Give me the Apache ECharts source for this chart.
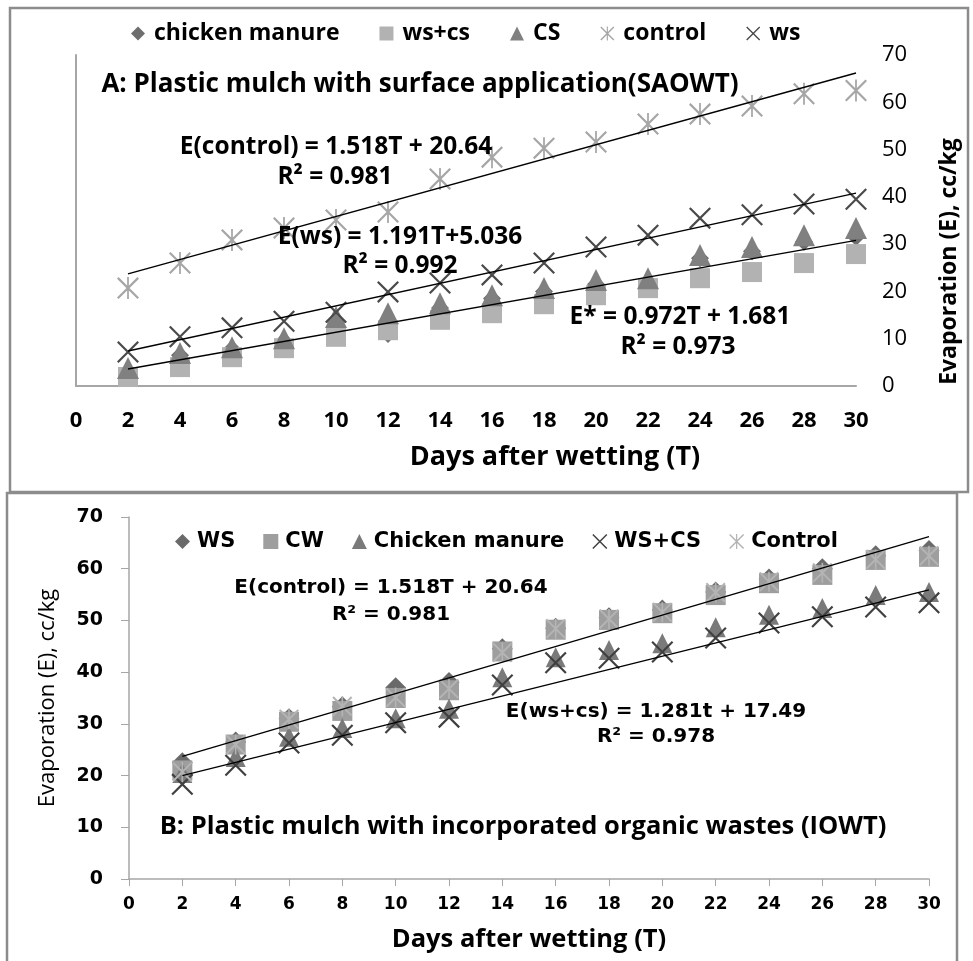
<!DOCTYPE html>
<html>
<head>
<meta charset="utf-8">
<script src="https://cdn.jsdelivr.net/npm/echarts@6/dist/echarts.min.js"></script>
<style>html,body{margin:0;padding:0;background:#fff}#c{width:973px;height:961px}</style>
</head>
<body>
<div id="c"></div>
<script>
// ---- data ----
const days = [2,4,6,8,10,12,14,16,18,20,22,24,26,28,30];
const xTicks = [0,2,4,6,8,10,12,14,16,18,20,22,24,26,28,30];
const yTicks = [0,10,20,30,40,50,60,70];

// Panel A: Plastic mulch with surface application (SAOWT)
const aNames = ['chicken manure','ws+cs','CS','control','ws'];
const aChickenManure = [3.0,6.5,7.8,9.5,13.5,11.0,16.5,18.5,20.0,21.5,22.0,27.0,28.5,30.5,31.5];
const aWsCs          = [1.9,4.0,6.1,8.0,10.4,11.8,14.0,15.4,17.3,19.2,20.7,22.8,24.1,26.0,27.9];
const aCS            = [3.8,7.0,8.2,10.1,14.6,15.4,17.5,19.2,20.7,22.4,22.8,27.7,29.4,31.9,33.4];
const aControl       = [20.7,26.0,30.9,33.4,35.1,36.8,43.8,48.4,50.3,51.6,55.4,57.5,59.2,61.8,62.5];
const aWs            = [7.2,10.4,12.3,13.7,15.6,19.9,21.8,23.5,26.0,29.4,31.9,35.5,36.2,38.5,39.5];
// trend lines in panel A (endpoints read at T=2 and T=30)
const aTrendControl = [[2,23.7],[30,66.2]];
const aTrendWs      = [[2,7.4],[30,40.8]];
const aTrendStar    = [[2,3.6],[30,30.8]];
const aEquations = ['E(control) = 1.518T + 20.64','R\u00b2 = 0.981','E(ws) = 1.191T+5.036','R\u00b2 = 0.992','E* = 0.972T + 1.681','R\u00b2 = 0.973'];
const aTitle = 'A: Plastic mulch with surface application(SAOWT)';

// Panel B: Plastic mulch with incorporated organic wastes (IOWT)
const bNames = ['WS','CW','Chicken manure','WS+CS','Control'];
const bWS            = [22.5,26.5,31.0,33.3,37.0,38.0,44.5,48.5,50.5,52.0,55.5,58.0,60.0,62.5,63.5];
const bCW            = [21.0,26.0,30.4,32.5,35.0,36.5,44.0,48.2,50.1,51.4,54.9,57.2,58.8,61.7,62.3];
const bChickenManure = [20.5,23.6,27.5,29.2,31.1,32.9,39.0,42.9,44.3,45.6,48.7,51.1,52.4,54.9,55.5];
const bWsCs          = [18.3,22.0,26.3,27.8,30.2,31.3,37.5,41.8,42.7,43.9,46.6,49.5,50.7,52.6,53.4];
const bControl       = [20.7,26.0,30.9,33.4,35.1,36.8,43.8,48.4,50.3,51.6,55.4,57.5,59.2,61.8,62.5];
const bTrendControl = [[2,23.7],[30,66.2]];
const bTrendWsCs    = [[2,20.0],[30,55.9]];
const bEquations = ['E(control) = 1.518T + 20.64','R\u00b2 = 0.981','E(ws+cs) = 1.281t + 17.49','R\u00b2 = 0.978'];
const bTitle = 'B: Plastic mulch with incorporated organic wastes (IOWT)';

const xTitle = 'Days after wetting (T)';
const yTitle = 'Evaporation (E), cc/kg';

// ---- styling helpers ----
const X_PATH = 'path://M0,0.7L0.7,0L10,9.3L9.3,10Z M9.3,0L10,0.7L0.7,10L0,9.3Z';
const STAR_PATH = 'path://M0,0.7L0.7,0L10,9.3L9.3,10Z M9.3,0L10,0.7L0.7,10L0,9.3Z M4.6,0L5.4,0L5.4,10L4.6,10Z';
const pair = arr => days.map((d,i)=>[d,arr[i]]);
const AX = '#a6a6a6';
const FA = 'Open Sans';
const FB = 'DejaVu Sans';

function scatter(name, data, symbol, size, color, xi, yi, z) {
  return {name, type:'scatter', xAxisIndex:xi, yAxisIndex:yi, data:pair(data),
    symbol, symbolSize:size, itemStyle:{color, opacity:1}, z:z, silent:true, animation:false};
}
function trend(name, data, xi, yi) {
  return {name, type:'line', xAxisIndex:xi, yAxisIndex:yi, data, showSymbol:false, symbol:'none',
    lineStyle:{color:'#000', width:1.4}, z:20, silent:true, animation:false};
}
function txt(text, x, y, size, font, weight) {
  return {type:'text', x, y, z:100, silent:true,
    style:{text, fontSize:size, fontFamily:font, fontWeight:weight||'bold', fill:'#000',
      align:'center', verticalAlign:'middle', textAlign:'center', textVerticalAlign:'middle'}};
}

const chart = echarts.init(document.getElementById('c'), null, {renderer:'canvas'});
const option = {
  backgroundColor:'#fff',
  animation:false,
  grid:[
    {left:76, top:55, width:780, height:331},
    {left:129, top:517, width:800, height:362}
  ],
  xAxis:[
    {gridIndex:0, type:'value', min:0, max:30, interval:2,
      axisLine:{show:true, lineStyle:{color:AX, width:2}}, axisTick:{show:false},
      splitLine:{show:false},
      axisLabel:{margin:24, color:'#000', fontFamily:FA, fontWeight:'bold', fontSize:22},
      name:xTitle, nameLocation:'middle', nameGap:58,
      nameTextStyle:{fontFamily:FA, fontWeight:'bold', fontSize:27, color:'#000', padding:[0,0,0,178]}},
    {gridIndex:1, type:'value', min:0, max:30, interval:2,
      axisLine:{show:true, lineStyle:{color:AX, width:1.5}}, axisTick:{show:true, length:7, lineStyle:{color:AX}},
      splitLine:{show:false},
      axisLabel:{margin:17, color:'#000', fontFamily:FB, fontWeight:'bold', fontSize:17},
      name:xTitle, nameLocation:'middle', nameGap:48,
      nameTextStyle:{fontFamily:FA, fontWeight:'bold', fontSize:25.5, color:'#000'}}
  ],
  yAxis:[
    {gridIndex:0, type:'value', min:0, max:70, interval:10, position:'left',
      axisLine:{show:true, lineStyle:{color:AX, width:2}}, axisTick:{show:false},
      axisLabel:{show:false}, splitLine:{show:false}},
    {gridIndex:0, type:'value', min:0, max:70, interval:10, position:'right',
      axisLine:{show:false}, axisTick:{show:false}, splitLine:{show:false},
      axisLabel:{margin:26, color:'#000', fontFamily:FA, fontSize:22, align:'left'},
      name:yTitle, nameLocation:'middle', nameGap:82, nameRotate:90,
      nameTextStyle:{fontFamily:FA, fontWeight:'bold', fontSize:23, color:'#000', padding:[0,82,0,0]}},
    {gridIndex:1, type:'value', min:0, max:70, interval:10, position:'left',
      axisLine:{show:true, lineStyle:{color:AX, width:1.5}}, axisTick:{show:true, length:8, lineStyle:{color:AX}},
      splitLine:{show:false},
      axisLabel:{margin:26, color:'#000', fontFamily:FB, fontWeight:'bold', fontSize:19},
      name:yTitle, nameLocation:'middle', nameGap:70, nameRotate:90,
      nameTextStyle:{fontFamily:FA, fontSize:22, color:'#000'}}
  ],
  legend:[
    {data:aNames, left:126, top:17, itemGap:40, itemWidth:14, itemHeight:14,
      textStyle:{fontFamily:FA, fontWeight:'bold', fontSize:23, color:'#000', padding:[0,0,0,4]}},
    {data:bNames, left:170, top:526, itemGap:28, itemWidth:15, itemHeight:15,
      textStyle:{fontFamily:FB, fontWeight:'bold', fontSize:21, color:'#000', padding:[0,0,0,2]}}
  ],
  series:[
    scatter(aNames[0], aChickenManure, 'diamond', 18, '#6e6e6e', 0, 0, 2),
    scatter(aNames[1], aWsCs, 'rect', 20, '#b2b2b2', 0, 0, 3),
    scatter(aNames[2], aCS, 'triangle', 22, '#808080', 0, 0, 4),
    scatter(aNames[3], aControl, STAR_PATH, 22, '#a6a6a6', 0, 0, 5),
    scatter(aNames[4], aWs, X_PATH, 22, '#4a4a4a', 0, 0, 6),
    trend('trend control A', aTrendControl, 0, 0),
    trend('trend ws A', aTrendWs, 0, 0),
    trend('trend star A', aTrendStar, 0, 0),
    scatter(bNames[0], bWS, 'diamond', 21, '#6a6a6a', 1, 2, 2),
    scatter(bNames[1], bCW, 'rect', 20, '#9e9e9e', 1, 2, 3),
    scatter(bNames[2], bChickenManure, 'triangle', 20, '#7a7a7a', 1, 2, 4),
    scatter(bNames[3], bWsCs, X_PATH, 22, '#404040', 1, 2, 5),
    scatter(bNames[4], bControl, STAR_PATH, 20, '#b4b4b4', 1, 2, 6),
    trend('trend control B', bTrendControl, 1, 2),
    trend('trend wscs B', bTrendWsCs, 1, 2)
  ],
  graphic:[
    {type:'rect', shape:{x:10, y:8, width:958, height:484}, style:{fill:'none', stroke:'#8c8c8c', lineWidth:2.5}, silent:true, z:0},
    {type:'rect', shape:{x:7, y:493, width:950, height:480}, style:{fill:'none', stroke:'#8c8c8c', lineWidth:2.5}, silent:true, z:0},
    txt(aTitle, 420, 85, 26, FA),
    txt(aEquations[0], 336, 147, 24.5, FA),
    txt(aEquations[1], 335, 177, 24.5, FA),
    txt(aEquations[2], 400, 237, 24.5, FA),
    txt(aEquations[3], 400, 266, 24.5, FA),
    txt(aEquations[4], 680, 317, 24.5, FA),
    txt(aEquations[5], 678, 347, 24.5, FA),
    txt(bEquations[0], 391, 588, 20, FB),
    txt(bEquations[1], 391, 615, 20, FB),
    txt(bEquations[2], 656, 712, 20, FB),
    txt(bEquations[3], 656, 737, 20, FB),
    txt(bTitle, 523, 827, 25.5, FA)
  ]
};
chart.setOption(option);
</script>
</body>
</html>
